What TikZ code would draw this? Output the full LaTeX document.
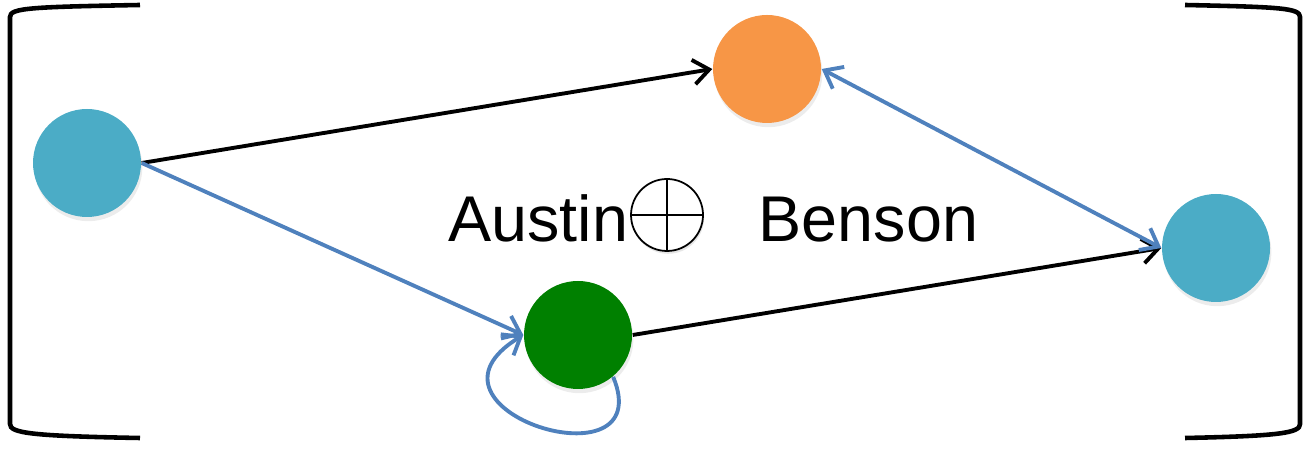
\documentclass[tikz,border=0pt]{standalone}
\usepackage{fontspec}
\setmainfont{Liberation Sans}
\usepackage{xcolor}
\usepackage{tikz}
\usetikzlibrary{arrows.meta,shadows}

\definecolor{nodecyan}{HTML}{4BACC6}
\definecolor{nodeorange}{HTML}{F79646}
\definecolor{nodegreen}{HTML}{008000}
\definecolor{edgeblue}{HTML}{4F81BD}

\begin{document}
\begin{tikzpicture}[
  vertex/.style={circle, minimum size=1.08cm, inner sep=0pt,
    drop shadow={opacity=0.15, shadow xshift=0.4pt, shadow yshift=-1.2pt}},
  tip/.style={Straight Barb[length=4.5pt,width=7pt,line width=1.1pt]},
  blackedge/.style={-{Straight Barb[length=4.5pt,width=7pt]}, line width=1.1pt, black},
  blueedge/.style={-{Straight Barb[length=4.5pt,width=7pt]}, line width=1.1pt, edgeblue},
  bracket/.style={line width=1.3pt, black},
  word/.style={inner sep=0pt, font=\fontsize{18.4}{22}\selectfont}
]
\useasboundingbox (0,0) rectangle (13.09,4.51);

% Vertices
\node[vertex, fill=nodecyan] (left) at (0.87, 2.88) {};
\node[vertex, fill=nodeorange] (top) at (7.67, 3.82) {};
\node[vertex, fill=nodegreen] (bottom) at (5.78, 1.16) {};
\node[vertex, fill=nodecyan] (right) at (12.16, 2.03) {};

% Label in the middle
\node[word, anchor=base east] (austin) at (6.29, 2.09) {Austin};
\node[circle, draw, line width=0.5pt, fill=white, minimum size=0.72cm, inner sep=0pt,
  drop shadow={opacity=0.2, shadow xshift=0.3pt, shadow yshift=-0.8pt}] (op) at (6.67, 2.36) {};
\draw[line width=0.5pt] (op.north) -- (op.south);
\draw[line width=0.5pt] (op.west) -- (op.east);
\node[word, anchor=base west] (benson) at (7.58, 2.09) {Benson};

% Edges
\draw[blackedge] (left.east) -- (top.west);
\draw[blueedge] (left.east) -- (bottom.west);
\draw[blackedge] (bottom.east) -- (right.west);
\draw[blueedge, {Straight Barb[length=4.5pt,width=7pt]}-{Straight Barb[length=4.5pt,width=7pt]}] (top.east) -- (right.west);

% Self loop
\draw[blueedge] (bottom.-50) .. controls (6.60, -0.39) and (4.00, 0.41) .. (bottom.west);

% Brackets
\draw[bracket] (1.40, 4.46) .. controls (0.30, 4.44) and (0.10, 4.43) .. (0.10, 4.34)
  -- (0.10, 0.27) .. controls (0.10, 0.18) and (0.30, 0.15) .. (1.40, 0.13);
\draw[bracket] (11.85, 4.46) .. controls (12.80, 4.44) and (13.00, 4.43) .. (13.00, 4.34)
  -- (13.00, 0.27) .. controls (13.00, 0.18) and (12.80, 0.15) .. (11.85, 0.13);
\end{tikzpicture}
\end{document}
